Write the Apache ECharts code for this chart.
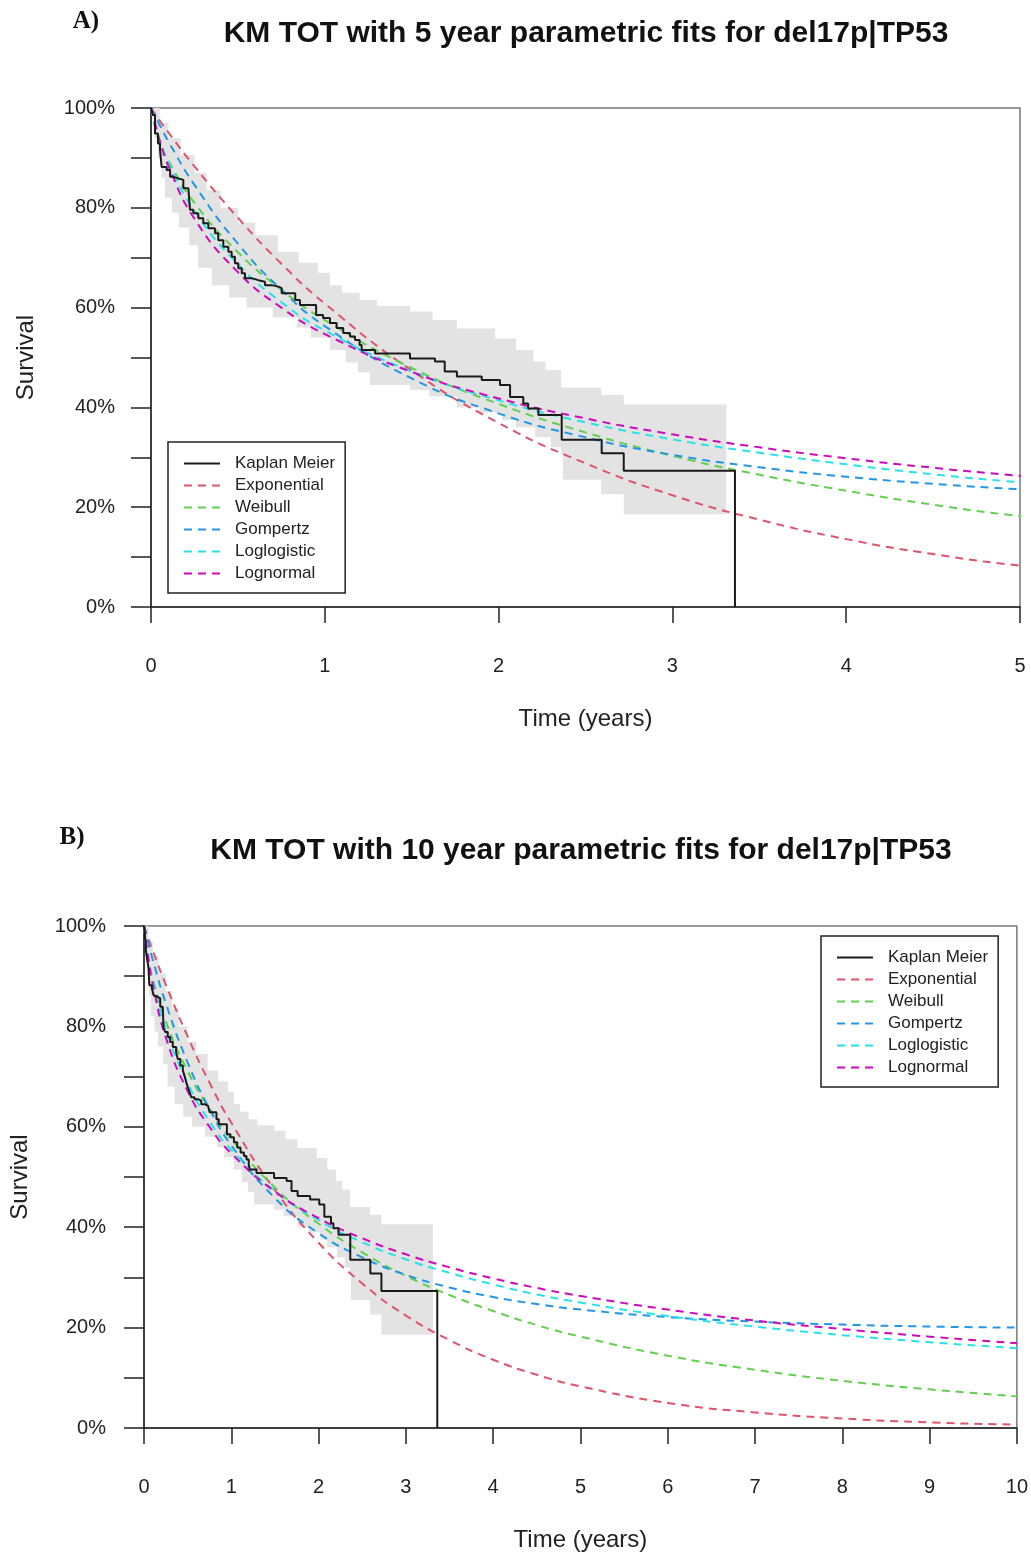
<!DOCTYPE html>
<html>
<head>
<meta charset="utf-8">
<script src="https://cdn.jsdelivr.net/npm/echarts@6/dist/echarts.min.js"></script>
<style>
  html, body { margin: 0; padding: 0; background: #fff; }
  #chart { width: 1031px; height: 1555px; }
</style>
</head>
<body>
<div id="chart"></div>
<script>
// Kaplan Meier steps (time in years, survival %)
const kmTime = [0, 0.01, 0.023, 0.04, 0.052, 0.061, 0.09, 0.11, 0.128, 0.157, 0.186, 0.215, 0.224, 0.243, 0.272, 0.301, 0.33, 0.368, 0.387, 0.416, 0.445, 0.464, 0.483, 0.502, 0.522, 0.541, 0.579, 0.617, 0.656, 0.694, 0.733, 0.752, 0.83, 0.857, 0.95, 0.99, 1.03, 1.068, 1.106, 1.145, 1.174, 1.2, 1.212, 1.289, 1.49, 1.634, 1.69, 1.76, 1.903, 2.008, 2.066, 2.142, 2.17, 2.229, 2.363, 2.593, 2.72, 3.36];
const kmSurv = [100, 98.6, 94.9, 92.9, 91.6, 88.2, 87.6, 86.2, 85.9, 85.6, 83.9, 83.6, 79.6, 78.9, 77.9, 76.9, 75.9, 74.9, 73.5, 72.2, 71.2, 70.2, 68.9, 67.9, 66.9, 65.9, 65.5, 65.2, 64.5, 64.2, 63.9, 62.9, 61.5, 60.5, 58.5, 57.9, 56.9, 55.9, 54.9, 54.2, 53.5, 52.5, 51.5, 50.8, 49.8, 49.2, 47.2, 46.2, 45.5, 44.5, 42.1, 40.8, 39.8, 38.5, 33.5, 30.8, 27.3, 0];

// confidence band (step edges)
const bandUpperTime = [0, 0.05, 0.1, 0.17, 0.25, 0.32, 0.4, 0.5, 0.6, 0.73, 0.85, 0.96, 1.03, 1.1, 1.2, 1.3, 1.49, 1.62, 1.76, 1.98, 2.1, 2.2, 2.27, 2.36, 2.59, 2.72, 3.31];
const bandUpper = [100, 97, 94, 90.6, 87, 83.5, 80, 77, 74.5, 71.2, 69, 67, 64.5, 63, 61.5, 60.3, 59.2, 57.5, 55.8, 53.8, 51.5, 49.2, 47.5, 44, 42.5, 40.6, 40.6];
const bandLowerTime = [0, 0.02, 0.04, 0.06, 0.08, 0.12, 0.16, 0.22, 0.27, 0.35, 0.45, 0.55, 0.7, 0.84, 0.92, 1.03, 1.12, 1.19, 1.26, 1.49, 1.6, 1.76, 1.89, 2.02, 2.1, 2.21, 2.3, 2.36, 2.37, 2.59, 2.72, 3.31];
const bandLower = [100, 94, 90, 86, 82, 79, 76, 72.5, 68, 64.5, 62, 60, 58, 56, 54, 51.5, 49, 47, 44.5, 43.5, 42.2, 40, 39, 37.5, 36, 34, 32, 30.5, 25.5, 22.6, 18.6, 18.6];

// parametric fits
const fitTime = [0, 0.02, 0.05, 0.1, 0.25, 0.5, 0.75, 1, 1.5, 2, 2.5, 3, 3.5, 4, 4.5, 5, 6, 7, 8, 9, 10];
const exponential = [100, 99.0, 97.5, 95.1, 88.3, 78.0, 68.8, 60.8, 47.4, 36.9, 28.8, 22.4, 17.5, 13.6, 10.6, 8.3, 5.0, 3.1, 1.9, 1.1, 0.7];
const weibull = [100, 96.5, 93.4, 89.5, 81.0, 71.1, 63.6, 57.5, 47.9, 40.7, 35.0, 30.3, 26.5, 23.3, 20.5, 18.2, 14.4, 11.6, 9.4, 7.7, 6.3];
const gompertz = [100, 98.6, 96.6, 93.3, 84.6, 72.8, 63.6, 56.3, 45.8, 38.8, 34.0, 30.5, 28.0, 26.1, 24.7, 23.6, 22.1, 21.2, 20.6, 20.2, 20.0];
const loglogistic = [100, 96.8, 93.5, 89.1, 79.4, 68.7, 61.1, 55.4, 47.2, 41.4, 37.0, 33.6, 30.9, 28.6, 26.6, 25.0, 22.3, 20.2, 18.5, 17.1, 15.9];
const lognormal = [100, 97.4, 93.5, 88.4, 77.8, 67.1, 60.0, 54.7, 47.1, 41.8, 37.8, 34.6, 32.0, 29.8, 27.9, 26.3, 23.6, 21.4, 19.7, 18.2, 16.9];

const legendNames = ["Kaplan Meier", "Exponential", "Weibull", "Gompertz", "Loglogistic", "Lognormal"];
const fitColors = ["#DF536B", "#61D04F", "#2297E6", "#28E2E5", "#CD0BBC"];
const fitValues = [exponential, weibull, gompertz, loglogistic, lognormal];

const FONT = "Liberation Sans, Arial, sans-serif";
const INK = "#222";

const zip = (xs, ys) => xs.map((x, i) => [x, ys[i]]);

// turn step points into polygon vertices
function stepPath(pts) {
  const out = [];
  pts.forEach((p, i) => {
    if (i > 0) out.push([p[0], pts[i - 1][1]]);
    out.push(p);
  });
  return out;
}

function panelSeries(idx) {
  const list = [];
  // grey confidence band
  list.push({
    type: "custom",
    xAxisIndex: idx,
    yAxisIndex: idx,
    silent: true,
    z: 1,
    data: [[0, 0]],
    renderItem: (params, api) => {
      const up = stepPath(zip(bandUpperTime, bandUpper)).map((p) => api.coord(p));
      const lo = stepPath(zip(bandLowerTime, bandLower)).map((p) => api.coord(p)).reverse();
      return {
        type: "polygon",
        shape: { points: up.concat(lo) },
        style: { fill: "#e3e3e3" },
      };
    },
  });
  list.push({
    name: "Kaplan Meier",
    type: "line",
    xAxisIndex: idx,
    yAxisIndex: idx,
    step: "end",
    symbol: "none",
    z: 5,
    data: zip(kmTime, kmSurv),
    lineStyle: { color: "#1a1a1a", width: 2 },
    itemStyle: { color: "#1a1a1a" },
  });
  fitValues.forEach((vals, i) => {
    list.push({
      name: legendNames[i + 1],
      type: "line",
      xAxisIndex: idx,
      yAxisIndex: idx,
      symbol: "none",
      smooth: true,
      z: 4,
      data: zip(fitTime, vals),
      lineStyle: { color: fitColors[i], width: 2, type: [8, 6] },
      itemStyle: { color: fitColors[i] },
    });
  });
  return list;
}

function xAxisFor(idx, maxYear) {
  return {
    gridIndex: idx,
    type: "value",
    min: 0,
    max: maxYear,
    interval: 1,
    axisLine: { show: true, onZero: false, lineStyle: { color: INK, width: 1.5 } },
    axisTick: { show: true, length: 16, lineStyle: { color: INK, width: 1.5 } },
    axisLabel: { margin: 49, fontSize: 20, color: INK, fontFamily: FONT },
    splitLine: { show: false },
    name: "Time (years)",
    nameLocation: "middle",
    nameGap: 100,
    nameTextStyle: { fontSize: 24, color: INK, fontFamily: FONT },
  };
}

function yAxisFor(idx, labelMargin, nameGap) {
  return {
    gridIndex: idx,
    type: "value",
    min: 0,
    max: 100,
    interval: 10,
    axisLine: { show: true, lineStyle: { color: INK, width: 1.5 } },
    axisTick: { show: true, length: 20, lineStyle: { color: INK, width: 1.5 } },
    axisLabel: {
      margin: labelMargin,
      fontSize: 20,
      color: INK,
      fontFamily: FONT,
      formatter: (v) => (v % 20 === 0 ? v + "%" : ""),
    },
    splitLine: { show: false },
    name: "Survival",
    nameLocation: "middle",
    nameGap: nameGap,
    nameRotate: 90,
    nameTextStyle: { fontSize: 24, color: INK, fontFamily: FONT },
  };
}

function legendFor(left, top) {
  return {
    data: legendNames,
    orient: "vertical",
    left: left,
    top: top,
    backgroundColor: "#fff",
    borderColor: INK,
    borderWidth: 1.5,
    borderRadius: 0,
    padding: [13, 10, 11, 15],
    itemWidth: 36,
    itemHeight: 14,
    itemGap: 5,
    selectedMode: false,
    itemStyle: { opacity: 0 },
    textStyle: { fontSize: 17, lineHeight: 17, color: INK, fontFamily: FONT, padding: [0, 0, 0, 10] },
  };
}

function label(text, x, y, font) {
  return {
    type: "text",
    x: x,
    y: y,
    style: {
      text: text,
      font: font,
      fill: "#111",
      textAlign: "center",
      textVerticalAlign: "middle",
      align: "center",
      verticalAlign: "middle",
    },
  };
}

const chart = echarts.init(document.getElementById("chart"));
chart.setOption({
  backgroundColor: "#fff",
  animation: false,
  graphic: [
    label("A)", 86, 22, "bold 25px 'Liberation Serif', serif"),
    label("KM TOT with 5 year parametric fits for del17p|TP53", 586, 34, "bold 30px " + FONT),
    label("B)", 72, 838, "bold 25px 'Liberation Serif', serif"),
    label("KM TOT with 10 year parametric fits for del17p|TP53", 581, 851, "bold 30px " + FONT),
  ],
  grid: [
    { left: 151, top: 108, width: 869, height: 499, show: true, borderColor: "#777", borderWidth: 1.5 },
    { left: 143, top: 926, width: 875, height: 502, show: true, borderColor: "#777", borderWidth: 1.5 },
  ],
  legend: [legendFor(168, 442), legendFor(821, 936)],
  xAxis: [xAxisFor(0, 5), xAxisFor(1, 10)],
  yAxis: [yAxisFor(0, 36, 113), yAxisFor(1, 38, 112)],
  series: panelSeries(0).concat(panelSeries(1)),
});
</script>
</body>
</html>
